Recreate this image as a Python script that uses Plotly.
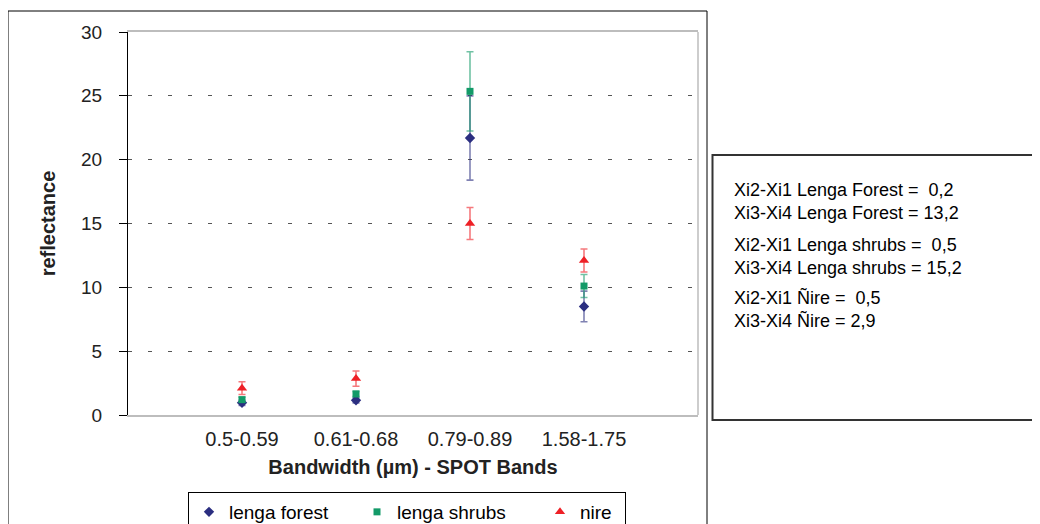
import plotly.graph_objects as go

bands = ["0.5-0.59", "0.61-0.68", "0.79-0.89", "1.58-1.75"]
band_pos = [1, 2, 3, 4]

lenga_forest = [0.95, 1.15, 21.7, 8.5]
lenga_forest_err = [0.2, 0.2, 3.3, 1.2]

lenga_shrubs = [1.2, 1.65, 25.35, 10.1]
lenga_shrubs_err = [0.2, 0.2, 3.1, 0.9]

nire = [2.1, 2.85, 15.0, 12.1]
nire_err = [0.5, 0.6, 1.25, 0.9]

info_blocks = [
    "Xi2-Xi1 Lenga Forest =  0,2<br>Xi3-Xi4 Lenga Forest = 13,2",
    "Xi2-Xi1 Lenga shrubs =  0,5<br>Xi3-Xi4 Lenga shrubs = 15,2",
    "Xi2-Xi1 Ñire =  0,5<br>Xi3-Xi4 Ñire = 2,9",
]
info_y_px = [201, 256, 309]

FONT = "Liberation Sans, Arial, sans-serif"

# page has an 8px body margin; figure fills the rest of the 1040x524 window
OFF = 8
W, H = 1040 - OFF, 524 - OFF
PLOT_L, PLOT_R, PLOT_T, PLOT_B = 128, 698, 32, 415   # window pixels
L, T = PLOT_L - OFF, PLOT_T - OFF
R, B = W - (PLOT_R - OFF), H - (PLOT_B - OFF)
PW, PH = PLOT_R - PLOT_L, PLOT_B - PLOT_T


def px_x(p):
    return (p - PLOT_L) / PW


def px_y(p):
    return (PLOT_B - p) / PH


fig = go.Figure()

series = [
    ("lenga forest", lenga_forest, lenga_forest_err, "#2b2e80", "rgba(43,46,128,0.6)", "diamond", 8, 123),
    ("lenga shrubs", lenga_shrubs, lenga_shrubs_err, "#139a68", "rgba(19,154,104,0.6)", "square", 7, 138),
    ("nire", nire, nire_err, "#ee2026", "rgba(238,32,38,0.6)", "triangle-up", 9, 40),
]
for name, ys, err, col, ecol, sym, sz, lw in series:
    fig.add_trace(go.Scatter(
        x=band_pos, y=ys, name=name, mode="markers",
        marker=dict(symbol=sym, size=sz, color=col, line=dict(width=0)),
        error_y=dict(type="data", array=err, visible=True, color=ecol,
                     thickness=1.6, width=3.5),
        legendwidth=lw,
    ))

shapes = [
    # outer chart border
    dict(type="rect", xref="paper", yref="paper",
         x0=px_x(8), x1=px_x(707), y0=px_y(535), y1=px_y(11),
         line=dict(color="black", width=1)),
    # text box border
    dict(type="rect", xref="paper", yref="paper",
         x0=px_x(712.5), x1=px_x(1050), y0=px_y(420), y1=px_y(155),
         line=dict(color="#333333", width=2)),
    # right border of plot area
    dict(type="line", xref="paper", yref="paper", x0=1, x1=1, y0=0, y1=1,
         line=dict(color="#bdbdbd", width=1.5)),
]

annotations = []
for txt, yp in zip(info_blocks, info_y_px):
    annotations.append(dict(
        xref="paper", yref="paper", x=px_x(732), y=px_y(yp),
        xanchor="left", yanchor="middle", align="left", text=txt, showarrow=False,
        font=dict(family=FONT, size=18, color="black"),
    ))

fig.update_layout(
    width=W, height=H,
    margin=dict(l=L, r=R, t=T, b=B, autoexpand=False),
    paper_bgcolor="white", plot_bgcolor="white",
    font=dict(family=FONT, color="black"),
    shapes=shapes, annotations=annotations,
    showlegend=True,
    legend=dict(
        orientation="h", x=px_x(188), y=px_y(492), xanchor="left", yanchor="top",
        bordercolor="black", borderwidth=1, bgcolor="white",
        font=dict(family=FONT, size=19, color="black"),
    ),
)

fig.update_xaxes(
    range=[0, 5], tickvals=band_pos, ticktext=bands,
    showgrid=False, zeroline=False,
    showline=True, linecolor="#bdbdbd", linewidth=1.5, mirror=True,
    ticks="", ticklabelstandoff=5,
    tickfont=dict(family=FONT, size=20, color="#222222"),
    title=dict(text="<b>Bandwidth (µm) - SPOT Bands</b>", standoff=11,
               font=dict(family=FONT, size=20, color="#222222")),
)

fig.update_yaxes(
    range=[0, 30], dtick=5, tick0=0,
    showgrid=True, gridcolor="#555555", gridwidth=1, griddash="4px,16px",
    zeroline=False,
    showline=True, linecolor="black", linewidth=1,
    ticks="outside", ticklen=8, tickcolor="black", ticklabelstandoff=13,
    tickfont=dict(family=FONT, size=19, color="#222222"),
    title=dict(text="<b>reflectance</b>", standoff=20,
               font=dict(family=FONT, size=20, color="#222222")),
)

fig.write_html("out.html")
